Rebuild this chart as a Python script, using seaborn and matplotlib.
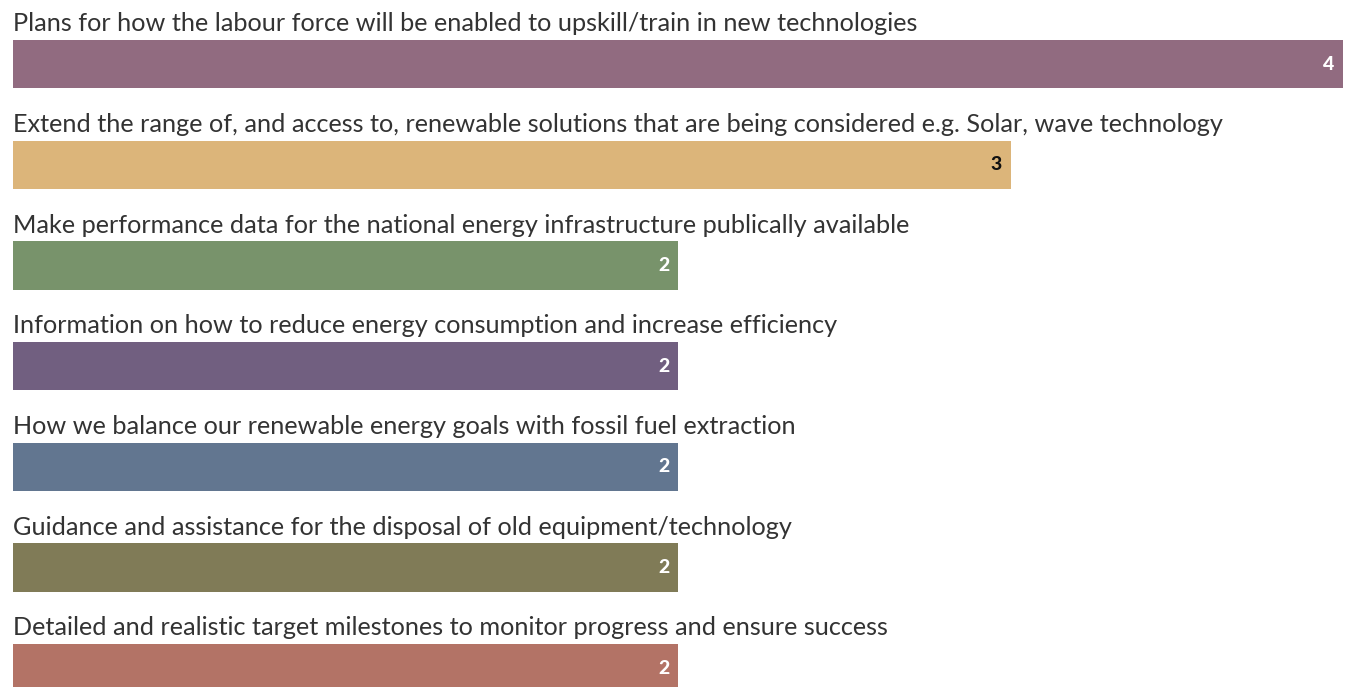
import matplotlib
matplotlib.use("Agg")
import matplotlib.pyplot as plt
import seaborn as sns
import pandas as pd

# Data
topics = [
    "Plans for how the labour force will be enabled to upskill/train in new technologies",
    "Extend the range of, and access to, renewable solutions that are being considered e.g. Solar, wave technology",
    "Make performance data for the national energy infrastructure publically available",
    "Information on how to reduce energy consumption and increase efficiency",
    "How we balance our renewable energy goals with fossil fuel extraction",
    "Guidance and assistance for the disposal of old equipment/technology",
    "Detailed and realistic target milestones to monitor progress and ensure success",
]
votes = [4, 3, 2, 2, 2, 2, 2]
bar_colors = ["#916b80", "#dcb57a", "#78936b", "#715f80", "#627690", "#807b57", "#b37366"]
label_colors = ["white", "#111111", "white", "white", "white", "white", "white"]

df = pd.DataFrame({"Topic": topics, "Votes": votes})

sns.set_style("white")
plt.rcParams["font.family"] = ["Lato", "DejaVu Sans"]

fig = plt.figure(figsize=(13.45, 6.87), dpi=100)
ax = fig.add_axes([13 / 1345, 0, 1330 / 1345, 1])

sns.barplot(
    data=df, x="Votes", y="Topic", hue="Topic",
    palette=bar_colors, legend=False, width=0.48,
    saturation=1, linewidth=0, ax=ax, orient="h",
)

ax.set_xlim(0, 4)
ax.set_ylim(6.187, -0.636)
ax.axis("off")

# Topic labels above each bar, value labels inside the bar end
for i, (topic, v) in enumerate(zip(topics, votes)):
    ax.text(0, i - 0.40, topic, ha="left", va="center",
            fontsize=18.2, color="#333333")
    ax.annotate(str(v), xy=(v, i), xytext=(-6, 0), textcoords="offset points",
                ha="right", va="center", fontsize=14, fontweight="black",
                color=label_colors[i])

fig.savefig("out.png", dpi=100)
